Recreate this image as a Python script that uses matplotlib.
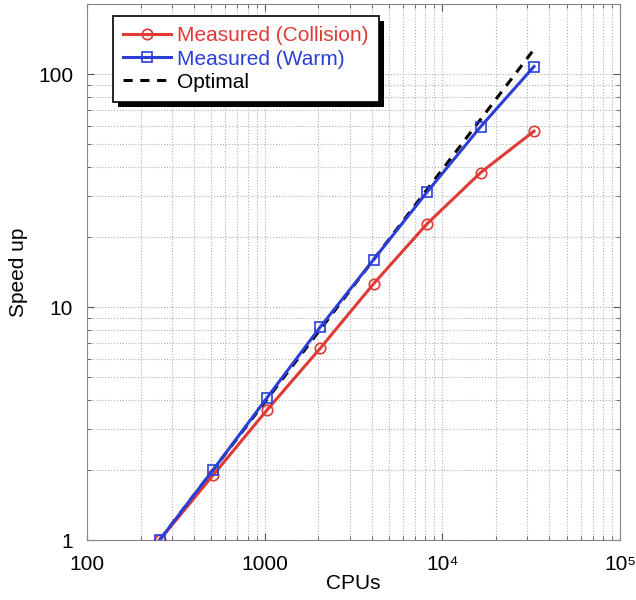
import matplotlib
matplotlib.use("Agg")
import matplotlib.pyplot as plt
from matplotlib.patches import Rectangle
from matplotlib.ticker import FixedLocator, FixedFormatter, LogLocator, NullFormatter

plt.rcParams['font.family'] = ['Liberation Sans', 'DejaVu Sans']

cpus = [256, 512, 1024, 2048, 4096, 8192, 16384, 32768]
speedup_collision = [1.0, 1.9, 3.6, 6.65, 12.6, 22.8, 37.8, 57.0]
speedup_warm = [1.0, 2.0, 4.06, 8.2, 16.0, 31.2, 59.5, 108.0]
speedup_optimal = [c / cpus[0] for c in cpus]

x_ticks = [100, 1000, 1e4, 1e5]
x_ticklabels = ['100', '1000', '10\u2074', '10\u2075']
y_ticks = [1, 10, 100]
y_ticklabels = ['1', '10', '100']

fig = plt.figure(figsize=(6.36, 6.0), dpi=100)
ax = fig.add_axes([0.137, 0.1, 0.838, 0.893])

red = '#e03a35'
blue = '#2b3fd6'

ax.plot(cpus, speedup_collision, color=red, lw=2.2, marker='o', ms=7.5,
        mfc='none', mec=red, mew=1.2, label='Measured (Collision)', zorder=3)
ax.plot(cpus, speedup_warm, color=blue, lw=2.2, marker='s', ms=7.5,
        mfc='none', mec=blue, mew=1.2, label='Measured (Warm)', zorder=3.2)
ax.plot(cpus, speedup_optimal, color='black', lw=2.2, ls=(0, (3, 2.5)),
        label='Optimal', zorder=2.8)

ax.set_xscale('log')
ax.set_yscale('log')
ax.set_xlim(100, 1e5)
ax.set_ylim(1, 200)

ax.xaxis.set_major_locator(FixedLocator(x_ticks))
ax.xaxis.set_major_formatter(FixedFormatter(x_ticklabels))
ax.yaxis.set_major_locator(FixedLocator(y_ticks))
ax.yaxis.set_major_formatter(FixedFormatter(y_ticklabels))
ax.xaxis.set_minor_locator(LogLocator(base=10, subs=range(2, 10)))
ax.yaxis.set_minor_locator(LogLocator(base=10, subs=range(2, 10)))
ax.xaxis.set_minor_formatter(NullFormatter())
ax.yaxis.set_minor_formatter(NullFormatter())

ax.tick_params(which='both', direction='in', top=True, right=True,
               colors='#555555', labelcolor='black', labelsize=15)
ax.tick_params(which='major', length=5, width=0.8)
ax.tick_params(axis='x', which='major', pad=11)
ax.tick_params(axis='y', which='major', pad=10)
ax.tick_params(which='minor', length=3, width=0.6)

ax.grid(True, which='both', ls=':', lw=0.8, color='#b0b0b0')
ax.set_axisbelow(True)
for s in ax.spines.values():
    s.set_color('#888888')
    s.set_linewidth(0.8)

ax.set_xlabel('CPUs', fontsize=15, labelpad=0)
ax.set_ylabel('Speed up', fontsize=15, labelpad=7)

leg = ax.legend(loc='upper left', bbox_to_anchor=(0.048, 0.978), fontsize=15,
                borderaxespad=0, frameon=True, fancybox=False,
                edgecolor='black', framealpha=1, handlelength=2.3,
                handletextpad=0.3, labelspacing=0.2, borderpad=0.5)
leg.set_zorder(10)
leg.get_frame().set_linewidth(1.2)
for txt, c in zip(leg.get_texts(), [red, blue, 'black']):
    txt.set_color(c)

# solid black drop shadow behind the legend box
fig.canvas.draw()
bb = leg.get_frame().get_window_extent()
shadow = Rectangle((bb.x0 + 5, bb.y0 - 5), bb.width, bb.height,
                   transform=None, facecolor='black', edgecolor='none',
                   zorder=9)
ax.add_artist(shadow)

fig.savefig('out.png', dpi=100)
